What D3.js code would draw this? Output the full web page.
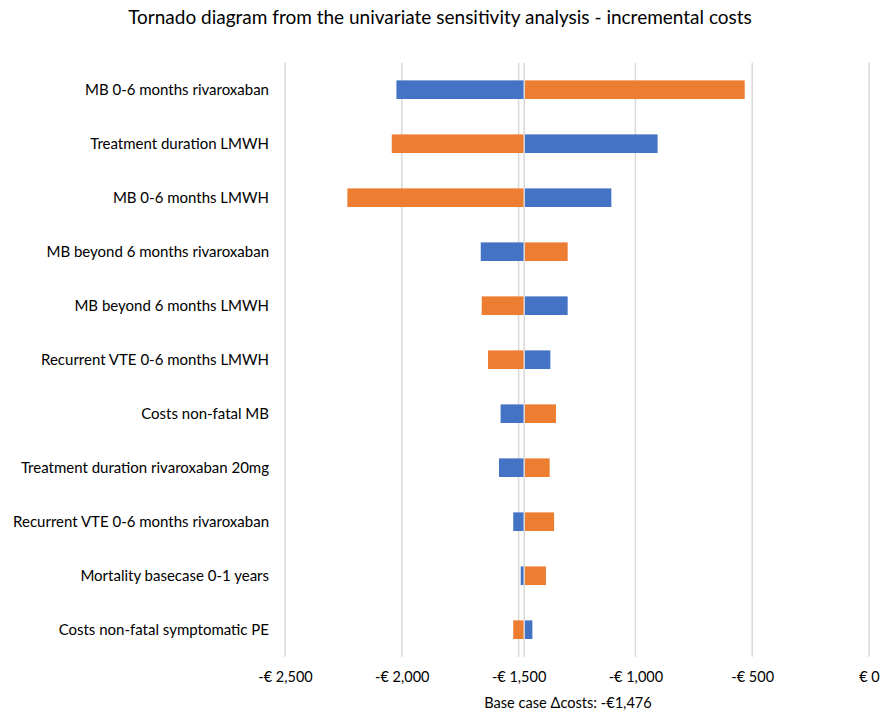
<!DOCTYPE html>
<html>
<head>
<meta charset="utf-8">
<script src="https://cdn.jsdelivr.net/npm/d3@7"></script>
<style>
  html, body { margin: 0; padding: 0; background: #fff; }
  svg { display: block; font-family: Lato, "Open Sans", sans-serif; }
</style>
</head>
<body>
<svg id="chart" width="881" height="715"></svg>
<script>
// Parameters of the one-way sensitivity analysis (top = widest swing)
const parameters = [
  "MB 0-6 months rivaroxaban",
  "Treatment duration LMWH",
  "MB 0-6 months LMWH",
  "MB beyond 6 months rivaroxaban",
  "MB beyond 6 months LMWH",
  "Recurrent VTE 0-6 months LMWH",
  "Costs non-fatal MB ",
  "Treatment duration rivaroxaban 20mg",
  "Recurrent VTE 0-6 months rivaroxaban",
  "Mortality basecase 0-1 years",
  "Costs non-fatal symptomatic PE"
];
// Incremental costs (EUR) at each end of the parameter range
const blueValues   = [-2023, -905, -1103, -1662, -1290, -1364, -1577, -1584, -1523, -1491, -1441];
const orangeValues = [-532, -2043, -2233, -1290, -1658, -1631, -1340, -1367, -1348, -1383, -1523];
const baseValue = -1476;
const tickValues = [-2500, -2000, -1500, -1000, -500, 0];

const colors = { blue: "#4472C4", orange: "#ED7D31", grid: "#d9d9d9" };

const svg = d3.select("#chart");
const plot = { left: 285, right: 869, top: 62.7, bottom: 656.7 };

const x = d3.scaleLinear().domain([-2500, 0]).range([plot.left, plot.right]);
const y = d3.scaleBand().domain(parameters).range([plot.top, plot.bottom])
  .paddingInner(0.655).paddingOuter(0.3275);

const euro = v => (v < 0 ? "-€ " : "€ ") + d3.format(",")(Math.abs(v));

// Title
svg.append("text")
  .attr("x", 440).attr("y", 24)
  .attr("text-anchor", "middle")
  .attr("font-size", 19)
  .attr("fill", "#000")
  .text("Tornado diagram from the univariate sensitivity analysis - incremental costs");

// Vertical gridlines
svg.append("g").selectAll("line").data(tickValues).join("line")
  .attr("x1", d => x(d)).attr("x2", d => x(d))
  .attr("y1", plot.top).attr("y2", plot.bottom)
  .attr("stroke", colors.grid).attr("stroke-width", 1.5);

// Bars: each one spans from the base case to the parameter's value
const rows = parameters.map((p, i) => ({ p, blue: blueValues[i], orange: orangeValues[i] }));
const bars = svg.append("g");
[["blue", colors.blue], ["orange", colors.orange]].forEach(([key, col]) => {
  bars.selectAll("rect." + key).data(rows).join("rect")
    .attr("class", key)
    .attr("x", d => x(Math.min(d[key], baseValue)))
    .attr("width", d => Math.abs(x(d[key]) - x(baseValue)))
    .attr("y", d => y(d.p))
    .attr("height", y.bandwidth())
    .attr("fill", col);
});

// Base case reference line
svg.append("line")
  .attr("x1", x(baseValue)).attr("x2", x(baseValue))
  .attr("y1", plot.top).attr("y2", plot.bottom)
  .attr("stroke", colors.grid).attr("stroke-width", 1.5);

// Category labels
svg.append("g").selectAll("text").data(parameters).join("text")
  .attr("x", 269)
  .attr("y", d => y(d) + y.bandwidth() / 2)
  .attr("dy", "0.35em")
  .attr("text-anchor", "end")
  .attr("font-size", 15)
  .attr("fill", "#000")
  .text(d => d);

// X axis tick labels
const xAxis = d3.axisBottom(x).tickValues(tickValues).tickFormat(euro).tickSize(0).tickPadding(0);
const ax = svg.append("g").attr("transform", `translate(0,${plot.bottom + 15})`).call(xAxis);
ax.select(".domain").remove();
ax.selectAll("text").attr("font-size", 14.5).attr("fill", "#000")
  .attr("font-family", "Lato, 'Open Sans', sans-serif");

// Base case caption
svg.append("text")
  .attr("x", 568).attr("y", 708)
  .attr("text-anchor", "middle")
  .attr("font-size", 14.6)
  .attr("fill", "#000")
  .text("Base case Δcosts: -€" + d3.format(",")(Math.abs(baseValue)));
</script>
</body>
</html>
